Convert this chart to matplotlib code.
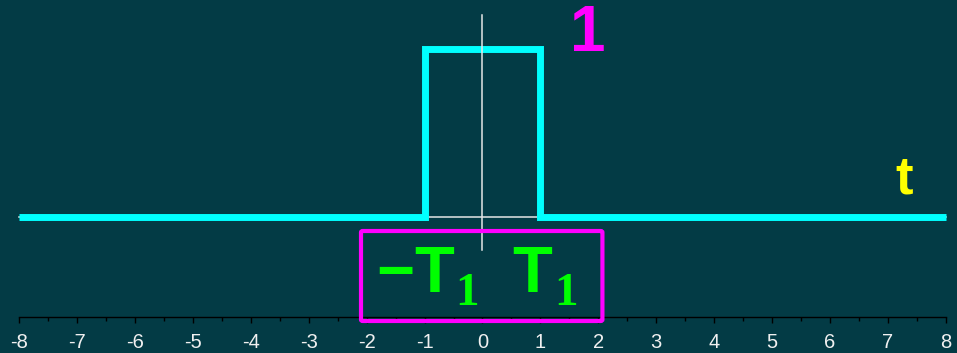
import numpy as np
import matplotlib
matplotlib.use("Agg")
import matplotlib.pyplot as plt
from matplotlib.patches import FancyBboxPatch

# pulse x(t): 1 for |t| < T1, 0 elsewhere (T1 = 1)
t_pts = [-8, -1, -1, 1, 1, 8]
x_pts = [0, 0, 1, 1, 0, 0]
tick_vals = list(range(-8, 9))
minor_vals = [v + 0.5 for v in range(-8, 8)]

BG = "#033b45"
CYAN = "#00ffff"
MAGENTA = "#ff00ff"
GREEN = "#00ff00"
YELLOW = "#ffff00"

plt.rcParams['axes.unicode_minus'] = False
plt.rcParams['font.family'] = ['Liberation Sans', 'DejaVu Sans']

fig = plt.figure(figsize=(9.57, 3.53), dpi=100, facecolor=BG)
ax = fig.add_axes([0, 0, 1, 1], facecolor=BG)
ax.set_xlim(-8.328, 8.19)
ax.set_ylim(-0.807, 1.288)

# thin white axes through the origin
ax.plot([-8, 8], [0, 0], color="#e6e6e6", lw=1.1, zorder=2)
ax.plot([0, 0], [-0.196, 1.199], color="#e6e6e6", lw=1.1, zorder=4)

# the pulse
ax.plot(t_pts, x_pts, color=CYAN, lw=5, solid_joinstyle='miter',
        solid_capstyle='butt', zorder=3)

# bottom time axis
for s in ['top', 'left', 'right']:
    ax.spines[s].set_visible(False)
ax.spines['bottom'].set_position(('data', -0.593))
ax.spines['bottom'].set_color('black')
ax.spines['bottom'].set_linewidth(1)
ax.spines['bottom'].set_bounds(-8, 8)
ax.set_xticks(tick_vals)
ax.set_xticks(minor_vals, minor=True)
ax.set_xticklabels([str(v) for v in tick_vals])
ax.tick_params(axis='x', which='major', direction='out', length=4.5, width=1,
               color='black', labelcolor='#f0f0f0', labelsize=14.5, pad=7)
ax.tick_params(axis='x', which='minor', direction='out', length=3, width=1,
               color='black')
ax.set_yticks([])

# magenta box around -T1, T1
box = FancyBboxPatch((-2.097, -0.617), 4.167, 0.534,
                     boxstyle="round,pad=0,rounding_size=0.03",
                     fill=False, ec=MAGENTA, lw=3, zorder=5,
                     mutation_aspect=0.3)
ax.add_patch(box)

ax.text(-1.51, -0.445, "\u2212", color=GREEN, fontsize=47, fontweight='bold',
        ha='center', va='baseline', zorder=6)
ax.text(-0.828, -0.445, "T", color=GREEN, fontsize=47, fontweight='bold',
        ha='center', va='baseline', zorder=6)
ax.text(-0.259, -0.522, "1", color=GREEN, fontsize=34, fontweight='bold',
        family=['Liberation Serif'], ha='center', va='baseline', zorder=6)
ax.text(0.863, -0.445, "T", color=GREEN, fontsize=47, fontweight='bold',
        ha='center', va='baseline', zorder=6)
ax.text(1.441, -0.522, "1", color=GREEN, fontsize=34, fontweight='bold',
        family=['Liberation Serif'], ha='center', va='baseline', zorder=6)

# amplitude and time labels
ax.text(1.821, 0.985, "1", color=MAGENTA, fontsize=46, fontweight='bold',
        ha='center', va='baseline')
ax.text(7.274, 0.142, "t", color=YELLOW, fontsize=38, fontweight='bold',
        ha='center', va='baseline')

fig.savefig("out.png", dpi=100, facecolor=BG)
